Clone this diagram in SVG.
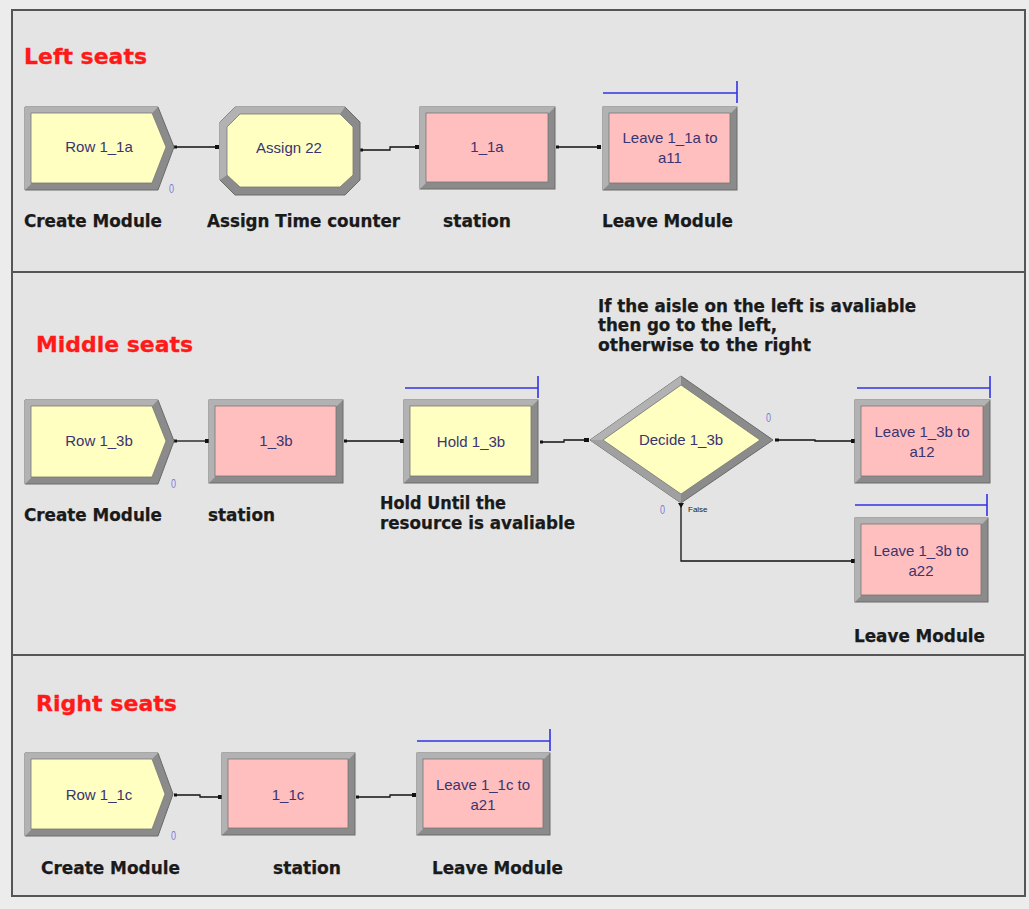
<svg xmlns="http://www.w3.org/2000/svg" width="1029" height="909" viewBox="0 0 1029 909">
<defs>
<style>
.bg{fill:#ececec}
.frame{fill:#e4e4e4;stroke:#555;stroke-width:2}
.div{stroke:#555;stroke-width:2}
.title{font-family:"DejaVu Sans",Verdana,sans-serif;font-weight:bold;font-size:22px;fill:#ff1a1a;stroke:#ff1a1a;stroke-width:0.3}
.lbl{font-family:"DejaVu Sans",Verdana,sans-serif;font-weight:bold;font-size:17px;fill:#1a1a1a;stroke:#1a1a1a;stroke-width:0.25}
.nt{font-family:"Liberation Sans",Arial,sans-serif;font-size:15px;fill:#3a3470;text-anchor:middle}
.zero{font-family:"Liberation Sans",Arial,sans-serif;font-size:13px;fill:#7a7ad8}
.out{fill:#8b8b8b;stroke:#6a6a6a;stroke-width:1}
.hi{fill:#b2b2b2}
.y{fill:#ffffc2;stroke:#777;stroke-width:0.8}
.p{fill:#ffbfbf;stroke:#777;stroke-width:0.8}
.q{stroke:#3333e6;stroke-width:1.6;fill:none}
.c{stroke:#111;stroke-width:1.3;fill:none}
.dot{fill:#111}
.small{font-family:"Liberation Sans",Arial,sans-serif;font-size:8px;fill:#222}
</style>
</defs>
<rect class="bg" x="0" y="0" width="1029" height="909"/>
<rect class="frame" x="12" y="10" width="1013" height="886"/>
<line class="div" x1="12" y1="272" x2="1025" y2="272"/>
<line class="div" x1="12" y1="655" x2="1025" y2="655"/>

<!-- Titles -->
<text class="title" x="24" y="64" textLength="123" lengthAdjust="spacingAndGlyphs">Left seats</text>
<text class="title" x="36" y="352" textLength="157" lengthAdjust="spacingAndGlyphs">Middle seats</text>
<text class="title" x="36" y="711" textLength="141" lengthAdjust="spacingAndGlyphs">Right seats</text>

<!-- Labels -->
<g id="labels">
<text class="lbl" x="24" y="227" textLength="138" lengthAdjust="spacingAndGlyphs">Create Module</text>
<text class="lbl" x="207" y="227" textLength="193" lengthAdjust="spacingAndGlyphs">Assign Time counter</text>
<text class="lbl" x="443" y="227" textLength="68" lengthAdjust="spacingAndGlyphs">station</text>
<text class="lbl" x="602" y="227" textLength="131" lengthAdjust="spacingAndGlyphs">Leave Module</text>
<text class="lbl" x="598" y="312" textLength="318" lengthAdjust="spacingAndGlyphs">If the aisle on the left is avaliable</text>
<text class="lbl" x="598" y="331" textLength="179" lengthAdjust="spacingAndGlyphs">then go to the left,</text>
<text class="lbl" x="598" y="351" textLength="213" lengthAdjust="spacingAndGlyphs">otherwise to the right</text>
<text class="lbl" x="24" y="521" textLength="138" lengthAdjust="spacingAndGlyphs">Create Module</text>
<text class="lbl" x="208" y="521" textLength="67" lengthAdjust="spacingAndGlyphs">station</text>
<text class="lbl" x="380" y="509" textLength="126" lengthAdjust="spacingAndGlyphs">Hold Until the</text>
<text class="lbl" x="380" y="529" textLength="195" lengthAdjust="spacingAndGlyphs">resource is avaliable</text>
<text class="lbl" x="854" y="642" textLength="131" lengthAdjust="spacingAndGlyphs">Leave Module</text>
<text class="lbl" x="41" y="874" textLength="139" lengthAdjust="spacingAndGlyphs">Create Module</text>
<text class="lbl" x="273" y="874" textLength="68" lengthAdjust="spacingAndGlyphs">station</text>
<text class="lbl" x="432" y="874" textLength="131" lengthAdjust="spacingAndGlyphs">Leave Module</text>
</g>

<!-- Connectors -->
<g id="connectors">
<path class="c" d="M176 147 H217"/>
<rect class="dot" x="174" y="145.5" width="3" height="3"/>
<rect class="dot" x="215" y="145" width="4" height="4"/>
<path class="c" d="M362 150 H390 V147 H418"/>
<rect class="dot" x="360" y="148.5" width="3" height="3"/>
<rect class="dot" x="415" y="145" width="4" height="4"/>
<path class="c" d="M557 147 H600"/>
<rect class="dot" x="556" y="145.5" width="3" height="3"/>
<rect class="dot" x="597" y="145" width="4" height="4"/>

<path class="c" d="M176 441 H208"/>
<rect class="dot" x="174" y="439.5" width="3" height="3"/>
<rect class="dot" x="205" y="439" width="4" height="4"/>
<path class="c" d="M345 441 H403"/>
<rect class="dot" x="344" y="439.5" width="3" height="3"/>
<rect class="dot" x="400" y="439" width="4" height="4"/>
<path class="c" d="M541 442 H564 V440 H589"/>
<rect class="dot" x="540" y="440.5" width="3" height="3"/>
<rect class="dot" x="584" y="438" width="5" height="4"/>
<path class="c" d="M777 440 H815 V441 H854"/>
<rect class="dot" x="775" y="438.5" width="4" height="3"/>
<rect class="dot" x="851" y="439" width="4" height="4"/>
<path class="c" d="M681 504 V561 H854"/>
<path class="dot" d="M678 503 H684 L681 508 Z"/>
<rect class="dot" x="851" y="559" width="4" height="4"/>

<path class="c" d="M176 795 H200 V797 H220"/>
<rect class="dot" x="174" y="793.5" width="3" height="3"/>
<rect class="dot" x="218" y="795" width="4" height="4"/>
<path class="c" d="M358 797 H390 V795 H415"/>
<rect class="dot" x="356" y="795.5" width="3" height="3"/>
<rect class="dot" x="412" y="793" width="4" height="4"/>
</g>

<!-- Section 1 -->
<g id="row_1_1a">
<polygon class="out" points="25,107 158,107 174,147 158,190 25,190"/>
<polygon class="hi" points="25,107 158,107 152,113 31,113 31,184 25,190"/>
<polygon class="y" points="31,113 152,113 166,147 152,183 31,183"/>
<text class="nt" x="99" y="152">Row 1_1a</text>
<text class="zero" x="169" y="193" textLength="5" lengthAdjust="spacingAndGlyphs">0</text>
</g>
<g id="assign_22">
<polygon class="out" points="235,107 345,107 360,122 360,180 345,195 235,195 220,180 220,122"/>
<polygon class="hi" points="235,107 345,107 340,114 240,114 227,127 227,175 220,180 220,122"/>
<polygon class="y" points="240,114 340,114 353,127 353,175 340,187 240,187 227,175 227,127"/>
<text class="nt" x="289" y="153">Assign 22</text>
</g>
<g id="station_1_1a">
<rect class="out" x="420" y="107" width="135" height="82"/>
<polygon class="hi" points="420,107 555,107 549,113 426,113 426,183 420,189"/>
<rect class="p" x="426" y="113" width="122" height="69"/>
<text class="nt" x="487" y="152">1_1a</text>
</g>
<g id="leave_1_1a">
<rect class="out" x="603" y="107" width="134" height="83"/>
<polygon class="hi" points="603,107 737,107 731,113 609,113 609,184 603,190"/>
<rect class="p" x="609" y="113" width="121" height="70"/>
<text class="nt" x="670" y="143">Leave 1_1a to</text>
<text class="nt" x="670" y="163">a11</text>
<path class="q" d="M603 93 H737 M737 81 V103"/>
</g>

<!-- Section 2 -->
<g id="row_1_3b">
<polygon class="out" points="25,400 158,400 174,441 158,484 25,484"/>
<polygon class="hi" points="25,400 158,400 152,406 31,406 31,478 25,484"/>
<polygon class="y" points="31,406 152,406 166,441 152,477 31,477"/>
<text class="nt" x="99" y="446">Row 1_3b</text>
<text class="zero" x="171" y="488" textLength="5" lengthAdjust="spacingAndGlyphs">0</text>
</g>
<g id="station_1_3b">
<rect class="out" x="209" y="400" width="134" height="83"/>
<polygon class="hi" points="209,400 343,400 337,406 215,406 215,477 209,483"/>
<rect class="p" x="215" y="406" width="121" height="70"/>
<text class="nt" x="276" y="446">1_3b</text>
</g>
<g id="hold_1_3b">
<rect class="out" x="404" y="400" width="134" height="83"/>
<polygon class="hi" points="404,400 538,400 532,406 410,406 410,477 404,483"/>
<rect class="y" x="410" y="406" width="121" height="70"/>
<text class="nt" x="471" y="447">Hold 1_3b</text>
<path class="q" d="M405 388 H538 M538 376 V398"/>
</g>
<g id="decide_1_3b">
<polygon class="out" points="590,440 681,376 773,440 681,503"/>
<polygon class="hi" points="590,440 681,376 681,385 603,440"/>
<polygon fill="#a0a0a0" points="590,440 603,440 681,494 681,503"/>
<polygon class="y" points="603,440 681,385 760,440 681,494"/>
<text class="nt" x="681" y="445">Decide 1_3b</text>
<text class="zero" x="766" y="422" textLength="5" lengthAdjust="spacingAndGlyphs">0</text>
<text class="zero" x="660" y="514" textLength="5" lengthAdjust="spacingAndGlyphs">0</text>
<text class="small" x="688" y="512">False</text>
</g>
<g id="leave_1_3b_a12">
<rect class="out" x="855" y="400" width="135" height="83"/>
<polygon class="hi" points="855,400 990,400 984,406 861,406 861,477 855,483"/>
<rect class="p" x="861" y="406" width="122" height="70"/>
<text class="nt" x="922" y="437">Leave 1_3b to</text>
<text class="nt" x="922" y="457">a12</text>
<path class="q" d="M857 388 H990 M990 376 V398"/>
</g>
<g id="leave_1_3b_a22">
<rect class="out" x="855" y="518" width="133" height="84"/>
<polygon class="hi" points="855,518 988,518 982,524 861,524 861,596 855,602"/>
<rect class="p" x="861" y="524" width="120" height="71"/>
<text class="nt" x="921" y="556">Leave 1_3b to</text>
<text class="nt" x="921" y="576">a22</text>
<path class="q" d="M855 505 H987 M987 494 V516"/>
</g>

<!-- Section 3 -->
<g id="row_1_1c">
<polygon class="out" points="25,753 158,753 173,794 158,836 25,836"/>
<polygon class="hi" points="25,753 158,753 152,759 31,759 31,830 25,836"/>
<polygon class="y" points="31,759 152,759 165,794 152,829 31,829"/>
<text class="nt" x="99" y="800">Row 1_1c</text>
<text class="zero" x="171" y="840" textLength="5" lengthAdjust="spacingAndGlyphs">0</text>
</g>
<g id="station_1_1c">
<rect class="out" x="222" y="753" width="133" height="82"/>
<polygon class="hi" points="222,753 355,753 349,759 228,759 228,829 222,835"/>
<rect class="p" x="228" y="759" width="120" height="69"/>
<text class="nt" x="288" y="800">1_1c</text>
</g>
<g id="leave_1_1c">
<rect class="out" x="417" y="753" width="133" height="82"/>
<polygon class="hi" points="417,753 550,753 544,759 423,759 423,829 417,835"/>
<rect class="p" x="423" y="759" width="120" height="69"/>
<text class="nt" x="483" y="790">Leave 1_1c to</text>
<text class="nt" x="483" y="810">a21</text>
<path class="q" d="M417 741 H550 M550 729 V751"/>
</g>
</svg>
